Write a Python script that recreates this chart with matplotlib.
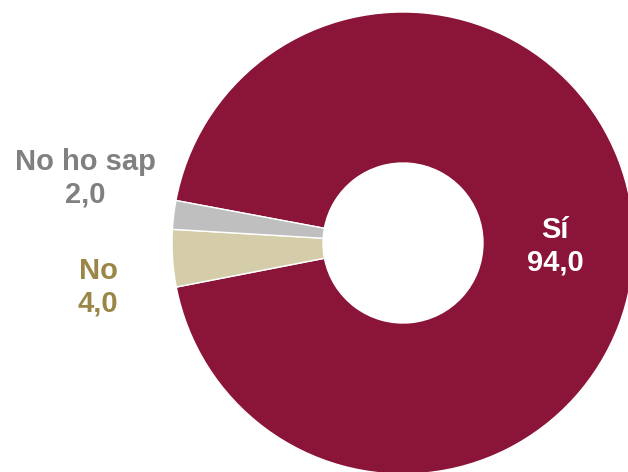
import matplotlib.pyplot as plt

# Dades
categories = ['Sí', 'No', 'No ho sap']
valors = [94.0, 4.0, 2.0]
colors = ['#8A1538', '#D5CDA9', '#BFBFBF']
colors_text = ['white', '#9A8748', '#808080']

plt.rcParams['font.family'] = ['Liberation Sans', 'DejaVu Sans']

fig = plt.figure(figsize=(6.28, 4.72), dpi=100)
ax = fig.add_axes([0, 0, 1, 1])

# Donut (coordenades en píxels, y cap amunt)
ax.pie(valors, colors=colors, startangle=169.4, counterclock=False,
       radius=231, center=(403, 229),
       wedgeprops=dict(width=151, edgecolor='white', linewidth=1))

ax.set_xlim(0, 628)
ax.set_ylim(0, 472)
ax.set_aspect('equal')
ax.axis('off')

# Etiquetes
pos_etiquetes = [(555, 472 - 246), (98, 472 - 287), (85, 472 - 178)]
for cat, val, col, (x, y) in zip(categories, valors, colors_text, pos_etiquetes):
    txt = cat + '\n' + f'{val:.1f}'.replace('.', ',')
    ax.text(x, y, txt, ha='center', va='center', color=col,
            fontsize=21, fontweight='bold', linespacing=1.2)

fig.savefig('out.png', dpi=100)
